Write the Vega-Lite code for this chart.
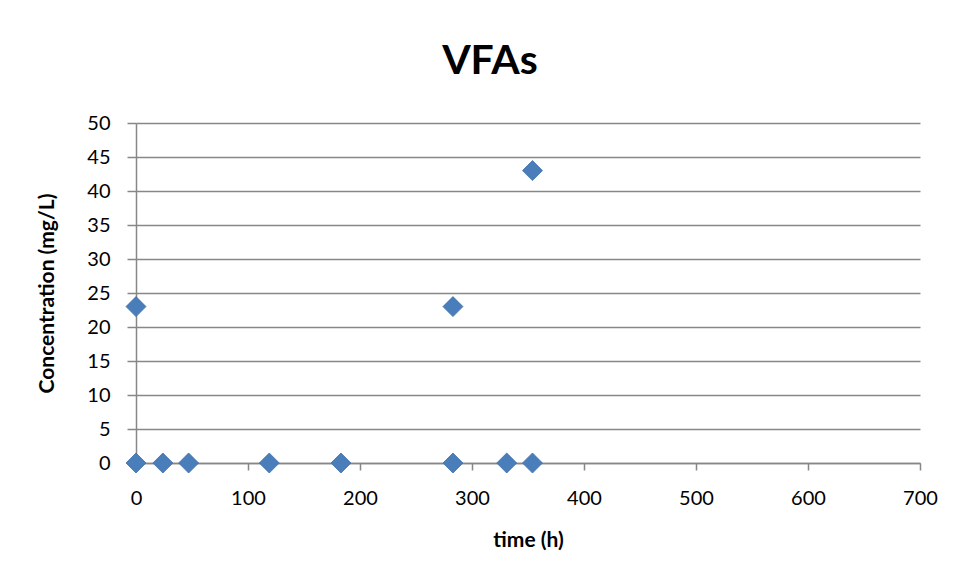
{
  "$schema": "https://vega.github.io/schema/vega-lite/v6.json",
  "autosize": {"type": "none"},
  "width": 784,
  "height": 340,
  "padding": {"left": 136, "top": 123, "right": 37, "bottom": 114},
  "background": "white",
  "title": {
    "text": "VFAs",
    "font": "Lato",
    "fontSize": 41,
    "fontWeight": "bold",
    "color": "black",
    "anchor": "middle",
    "dx": -38,
    "baseline": "alphabetic",
    "offset": -2
  },
  "data": {
    "values": [
      {"time": 0, "conc": 0},
      {"time": 24, "conc": 0},
      {"time": 47, "conc": 0},
      {"time": 119, "conc": 0},
      {"time": 183, "conc": 0},
      {"time": 283, "conc": 0},
      {"time": 331, "conc": 0},
      {"time": 354, "conc": 0},
      {"time": 0, "conc": 23},
      {"time": 283, "conc": 23},
      {"time": 354, "conc": 43}
    ]
  },
  "mark": {
    "type": "point",
    "shape": "diamond",
    "filled": true,
    "size": 400,
    "color": "#4A7EBB",
    "stroke": "#3F6FAA",
    "strokeWidth": 0.8,
    "opacity": 1,
    "clip": false
  },
  "encoding": {
    "x": {
      "field": "time",
      "type": "quantitative",
      "scale": {"domain": [0, 700], "nice": false, "zero": true},
      "axis": {
        "title": "time (h)",
        "values": [0, 100, 200, 300, 400, 500, 600, 700],
        "grid": false,
        "labelFlush": false,
        "domainColor": "#878787",
        "domainWidth": 1.5,
        "tickColor": "#878787",
        "tickWidth": 1.5,
        "tickSize": 7,
        "labelPadding": 18,
        "labelFont": "Lato",
        "labelFontSize": 20,
        "labelColor": "black",
        "titleFont": "Lato",
        "titleFontSize": 21,
        "titleFontWeight": "bold",
        "titleColor": "black",
        "titlePadding": 21
      }
    },
    "y": {
      "field": "conc",
      "type": "quantitative",
      "scale": {"domain": [0, 50], "nice": false},
      "axis": {
        "title": "Concentration (mg/L)",
        "values": [0, 5, 10, 15, 20, 25, 30, 35, 40, 45, 50],
        "grid": true,
        "labelFlush": false,
        "gridColor": "#878787",
        "gridWidth": 1.5,
        "domainColor": "#878787",
        "domainWidth": 1.5,
        "tickColor": "#878787",
        "tickWidth": 1.5,
        "tickSize": 9,
        "labelPadding": 17,
        "labelFont": "Lato",
        "labelFontSize": 20,
        "labelColor": "black",
        "titleFont": "Lato",
        "titleFontSize": 21,
        "titleFontWeight": "bold",
        "titleColor": "black",
        "titlePadding": 29
      }
    }
  },
  "config": {
    "view": {"stroke": null}
  }
}
